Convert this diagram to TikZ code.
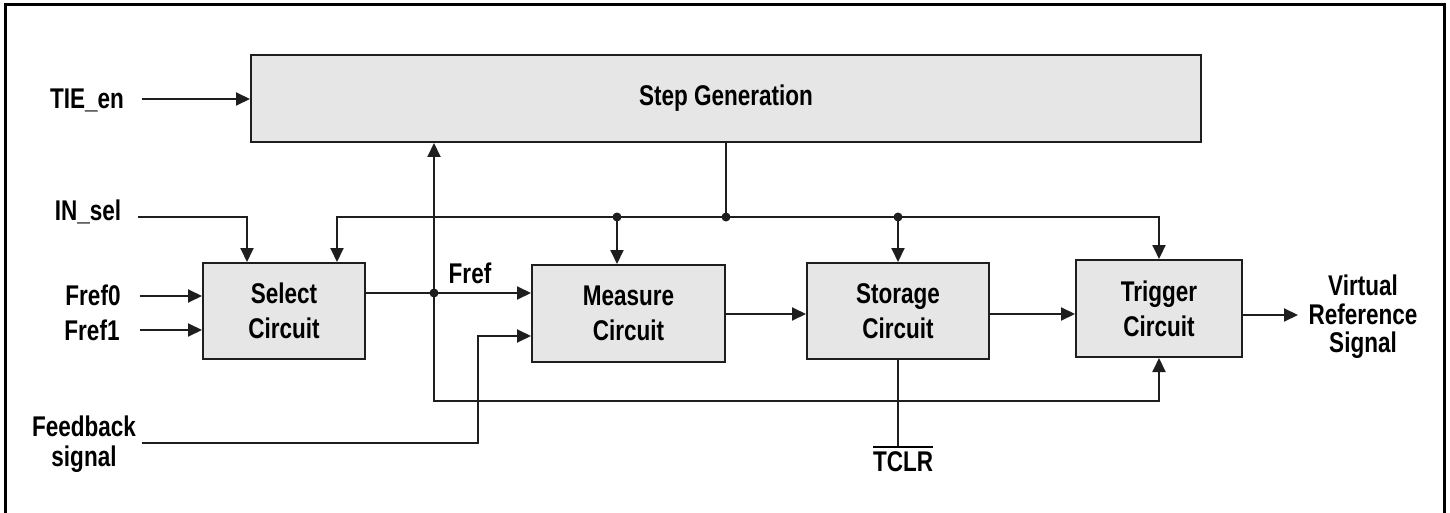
\documentclass[tikz,border=0pt]{standalone}
\usepackage{fontspec}
\setmainfont{Liberation Sans}[FakeStretch=0.79]
\usetikzlibrary{arrows.meta}
\definecolor{boxfill}{HTML}{E6E6E6}
\definecolor{wire}{HTML}{1E1E1E}
\newcommand\olbar[1]{\vbox{\hrule height 2.2pt\kern 3.5pt\hbox{#1}}}
\begin{document}
\begin{tikzpicture}[x=1pt,y=-1pt,
  every node/.style={font=\fontsize{28.5}{35}\selectfont\bfseries, inner sep=0pt},
  blk/.style={draw=wire, line width=2pt, fill=boxfill, align=center},
  lbl/.style={anchor=base, align=center},
  wireln/.style={draw=wire, line width=2pt},
  arr/.style={wireln, -{Triangle[length=14pt,width=13pt]}},
  arrboth/.style={wireln, {Triangle[length=14pt,width=13pt]}-{Triangle[length=14pt,width=13pt]}},
  dot/.style={circle, fill=wire, minimum size=9pt, inner sep=0pt}
]
\useasboundingbox (0,0) rectangle (1450,513);
\fill[white] (0,0) rectangle (1450,513);
\draw[line width=3pt] (5,530) -- (5,5) -- (1444,5) -- (1444,530);

% blocks
\node[blk, minimum width=950, minimum height=87] (step) at (726,98.5) {Step Generation};
\node[blk, minimum width=162, minimum height=96] (sel) at (284,311) {Select\\Circuit};
\node[blk, minimum width=193, minimum height=97] (meas) at (628.5,313.5) {Measure\\Circuit};
\node[blk, minimum width=182, minimum height=96] (stor) at (898,311) {Storage\\Circuit};
\node[blk, minimum width=166, minimum height=97] (trig) at (1159,308.5) {Trigger\\Circuit};

% labels
\node[lbl] (tie) at (87,109) {TIE\_en};
\node[lbl] (insel) at (88,220) {IN\_sel};
\node[lbl] (f0) at (93,305) {Fref0};
\node[lbl] (f1) at (92,340) {Fref1};
\node[align=center, font=\fontsize{28.5}{30}\selectfont\bfseries] (fb) at (84,444) {Feedback\\signal};
\node[lbl] (fref) at (470,283) {Fref};
\node[align=center, font=\fontsize{28.5}{28.5}\selectfont\bfseries] (vrs) at (1363,317) {Virtual\\Reference\\Signal};
\node[anchor=north] (tclr) at (903,445.5) {\olbar{TCLR}};

% wire end points
\coordinate (tieS) at (142,99);
\coordinate (inS) at (138,217);
\coordinate (f0S) at (140,296);
\coordinate (f1S) at (140,330);
\coordinate (jn) at (726,217);
\coordinate (frefJ) at (434,293);
\coordinate (loopC) at (434,401);
\coordinate (fbS) at (142,443);
\coordinate (fbC) at (478,443);
\coordinate (outE) at (1298,315);

% inputs
\draw[arr] (tieS) -- (tieS -| step.west);
\draw[arr] (inS) -| ([xshift=-37]sel.north);
\draw[arr] (f0S) -- (f0S -| sel.west);
\draw[arr] (f1S) -- (f1S -| sel.west);

% control bus
\draw[wireln] (step.south) -- (jn);
\draw[arr] (jn) -| ([xshift=53]sel.north);
\draw[arr] (jn) -| (trig.north);
\node[dot] (d1) at (617,217) {};
\node[dot] (d2) at (jn) {};
\node[dot] (d3) at (898,217) {};
\draw[arr] (d1.center) -- (d1 |- meas.north);
\draw[arr] (d3.center) -- (d3 |- stor.north);

% Fref path and loop
\draw[arr] (sel.east |- frefJ) -- (meas.west |- frefJ);
\node[dot] (d4) at (frefJ) {};
\draw[arrboth] (loopC |- step.south) -- (loopC) -| (trig.south);

% feedback
\draw[arr] (fbS) -- (fbC) |- (meas.west |- 0,336);

% chain
\draw[arr] (meas.east |- 0,314) -- (stor.west |- 0,314);
\draw[arr] (stor.east |- 0,314) -- (trig.west |- 0,314);
\draw[arr] (trig.east |- outE) -- (outE);

% TCLR
\draw[wireln] (stor.south) -- (stor.south |- tclr.north);
\end{tikzpicture}
\end{document}
